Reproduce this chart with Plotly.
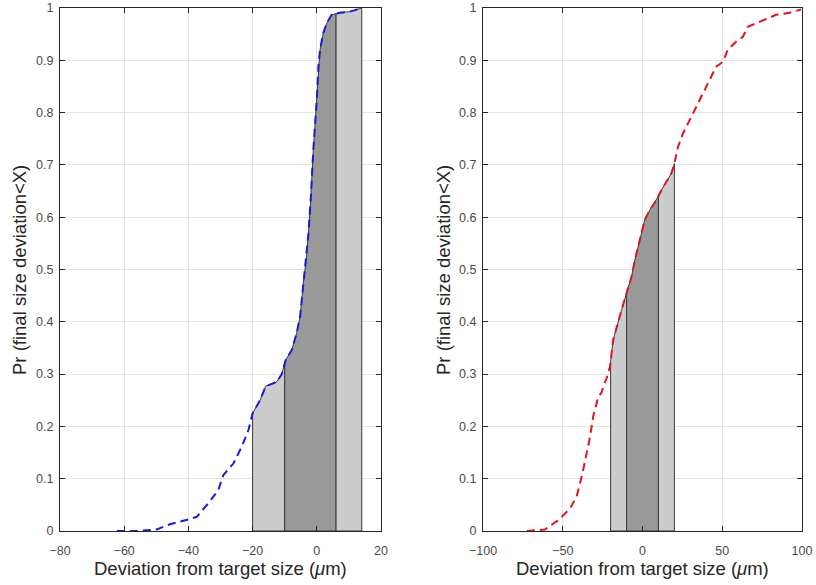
import numpy as np
import plotly.graph_objects as go

# ---------------- data ----------------
# Left panel: empirical CDF of final size deviation (blue)
left_x = [-62.3, -56.1, -49.9, -45.7, -40.0, -37.4, -33.8, -30.7, -29.1, -26.0, -23.4, -21.3,
          -20.0, -17.7, -15.9, -13.6, -12.5, -10.9, -9.7, -7.8, -6.3, -5.2, -4.2, -3.2, -2.6,
          -1.9, -1.1, 0.0, 0.5, 1.0, 2.0, 3.1, 4.6, 7.2, 10.3, 11.9, 14.0]
left_y = [0.0, 0.0, 0.003, 0.013, 0.022, 0.027, 0.053, 0.078, 0.107, 0.129, 0.161, 0.193,
          0.225, 0.25, 0.277, 0.282, 0.285, 0.30, 0.327, 0.346, 0.378, 0.41, 0.474, 0.524, 0.569,
          0.633, 0.728, 0.824, 0.888, 0.92, 0.952, 0.971, 0.987, 0.991, 0.993, 0.996, 1.0]
left_bounds = [-20, -10, 6, 14]

# Right panel: empirical CDF (red)
right_x = [-72.5, -61.1, -52.7, -45.4, -41.3, -38.1, -35.0, -32.9, -30.9, -27.7, -25.6, -24.6,
           -22.5, -20.4, -18.4, -16.3, -13.1, -10.0, -6.9, -4.8, -1.7, 1.4, 4.6, 8.8, 11.9, 15.0,
           18.1, 19.8, 22.3, 25.4, 29.6, 33.8, 37.9, 42.1, 46.2, 50.4, 53.5, 58.8, 62.9, 66.0,
           73.3, 83.8, 92.1, 99.4]
right_y = [0.0, 0.003, 0.021, 0.043, 0.066, 0.104, 0.149, 0.18, 0.219, 0.257, 0.265, 0.276,
           0.292, 0.314, 0.365, 0.39, 0.423, 0.455, 0.486, 0.518, 0.556, 0.595, 0.614, 0.633, 0.652, 0.668,
           0.684, 0.70, 0.735, 0.76, 0.786, 0.811, 0.837, 0.862, 0.888, 0.897, 0.92, 0.936, 0.945, 0.964,
           0.974, 0.987, 0.991, 0.997]
right_bounds = [-20, -10, 10, 20]

region_colors = ["#cccccc", "#999999", "#cccccc"]

x_title = "Deviation from target size (<i>μ</i>m)"
y_title = "Pr (final size deviation<X)"
y_ticks = [0, 0.1, 0.2, 0.3, 0.4, 0.5, 0.6, 0.7, 0.8, 0.9, 1]
y_ticklabels = ["0", "0.1", "0.2", "0.3", "0.4", "0.5", "0.6", "0.7", "0.8", "0.9", "1"]
left_xticks = [-80, -60, -40, -20, 0, 20]
right_xticks = [-100, -50, 0, 50, 100]

# ---------------- figure ----------------
W, H = 816, 585
fig = go.Figure()

FONT = "Arial, Liberation Sans, Helvetica, sans-serif"


def add_panel(xs, ys, bounds, color, xa, ya):
    xs = np.asarray(xs, float)
    ys = np.asarray(ys, float)
    for i in range(len(bounds) - 1):
        a, b = bounds[i], bounds[i + 1]
        inner = xs[(xs > a) & (xs < b)]
        px = np.concatenate([[a], [a], inner, [b], [b], [a]])
        py = np.concatenate([[0], [np.interp(a, xs, ys)], np.interp(inner, xs, ys),
                             [np.interp(b, xs, ys)], [0], [0]])
        fig.add_trace(go.Scatter(x=px, y=py, mode="lines", fill="toself",
                                 fillcolor=region_colors[i],
                                 line=dict(color="#3a3a3a", width=1),
                                 xaxis=xa, yaxis=ya, showlegend=False, hoverinfo="skip"))
    fig.add_trace(go.Scatter(x=xs, y=ys, mode="lines",
                             line=dict(color=color, width=2, dash="8px,5px"),
                             xaxis=xa, yaxis=ya, showlegend=False))


add_panel(left_x, left_y, left_bounds, "#1a1adc", "x", "y")
add_panel(right_x, right_y, right_bounds, "#e0141e", "x2", "y2")

axis_common = dict(showline=True, linecolor="#262626", linewidth=1, mirror="ticks",
                   ticks="inside", ticklen=5, tickcolor="#262626", automargin=False,
                   showgrid=True, gridcolor="#e3e3e3", gridwidth=1, zeroline=False,
                   tickfont=dict(family=FONT, size=12.5, color="#4a4a4a"))

L0, L1 = 60 / W, 381 / W
R0, R1 = 483 / W, 802 / W
B, T = (H - 531) / H, (H - 8) / H

fig.update_layout(
    width=W, height=H, margin=dict(l=0, r=0, t=0, b=0),
    paper_bgcolor="white", plot_bgcolor="white",
    xaxis=dict(domain=[L0, L1], range=[-80, 20], tickvals=left_xticks, anchor="y",
               ticklabelstandoff=8, **axis_common),
    yaxis=dict(domain=[B, T], range=[0, 1], tickvals=y_ticks, ticktext=y_ticklabels,
               anchor="x", ticklabelstandoff=3, **axis_common),
    xaxis2=dict(domain=[R0, R1], range=[-100, 100], tickvals=right_xticks, anchor="y2",
                ticklabelstandoff=8, **axis_common),
    yaxis2=dict(domain=[B, T], range=[0, 1], tickvals=y_ticks, ticktext=y_ticklabels,
                anchor="x2", ticklabelstandoff=3, **axis_common),
)

title_font = dict(family=FONT, size=18.5, color="#262626")
ann = []
for cx in [(60 + 381) / 2, (483 + 802) / 2]:
    ann.append(dict(text=x_title, x=cx / W, y=(H - 568) / H, xref="paper", yref="paper",
                    showarrow=False, font=title_font, xanchor="center", yanchor="middle"))
for cx in [19, 443]:
    ann.append(dict(text=y_title, x=cx / W, y=(H - 270) / H, xref="paper", yref="paper",
                    showarrow=False, font=title_font, textangle=-90,
                    xanchor="center", yanchor="middle"))
fig.update_layout(annotations=ann)

fig.write_html("out.html")
